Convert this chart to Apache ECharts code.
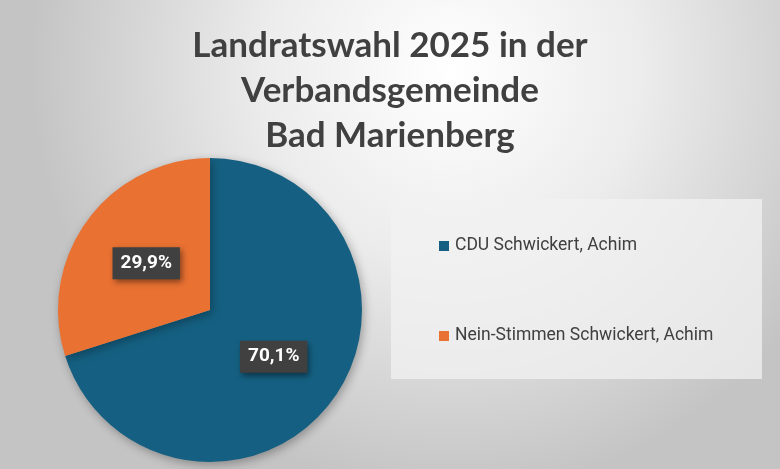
<!DOCTYPE html>
<html><head><meta charset="utf-8">
<script src="https://cdn.jsdelivr.net/npm/echarts@6/dist/echarts.min.js"></script>
<style>html,body{margin:0;padding:0;background:#fff}#c{width:780px;height:469px}</style>
</head><body><div id="c"></div>
<script>
const titleLines = ['Landratswahl 2025 in der', 'Verbandsgemeinde', 'Bad Marienberg'];
const categories = ['CDU Schwickert, Achim', 'Nein-Stimmen Schwickert, Achim'];
const values = [70.1, 29.9];
const colors = ['#156082', '#E97132'];

const chart = echarts.init(document.getElementById('c'), null, {renderer: 'canvas'});
chart.setOption({
  backgroundColor: {type: 'radial', x: 0.58, y: 0.15, r: 0.9,
    colorStops: [{offset: 0, color: '#ffffff'}, {offset: 0.45, color: '#ececec'}, {offset: 1, color: '#c4c4c4'}]},
  title: {
    text: titleLines.join('\n'), left: 'center', top: 18,
    textStyle: {fontFamily: 'Lato', fontWeight: 'bold', fontSize: 35, lineHeight: 45, color: '#404040'}
  },
  graphic: [{type: 'rect', left: 391, top: 199, shape: {width: 371, height: 180},
    style: {fill: 'rgba(242,242,242,0.75)'}, z: 0}],
  legend: {
    orient: 'vertical', left: 439, top: 236, padding: 0, itemWidth: 10, itemHeight: 10, itemGap: 70,
    icon: 'rect', data: categories,
    textStyle: {fontFamily: 'Roboto', fontSize: 17.5, lineHeight: 20, color: '#404040', padding: [0, 0, 0, 1]}
  },
  series: [{
    type: 'pie', center: [210, 310], radius: 152, startAngle: 90, clockwise: true,
    data: categories.map((c, i) => ({name: c, value: values[i], itemStyle: {color: colors[i]}})),
    itemStyle: {shadowBlur: 10, shadowColor: 'rgba(0,0,0,0.3)', shadowOffsetX: 2, shadowOffsetY: 3},
    label: {
      position: 'inside', formatter: p => p.value.toFixed(1).replace('.', ',') + '%',
      fontFamily: 'Roboto', fontWeight: 'bold', fontSize: 19, color: '#fff',
      backgroundColor: '#404040', padding: [7, 8, 6, 8],
      shadowBlur: 6, shadowColor: 'rgba(0,0,0,0.45)', shadowOffsetX: 2, shadowOffsetY: 3
    },
    labelLine: {show: false}, silent: true, animation: false
  }],
  animation: false
});
</script></body></html>
